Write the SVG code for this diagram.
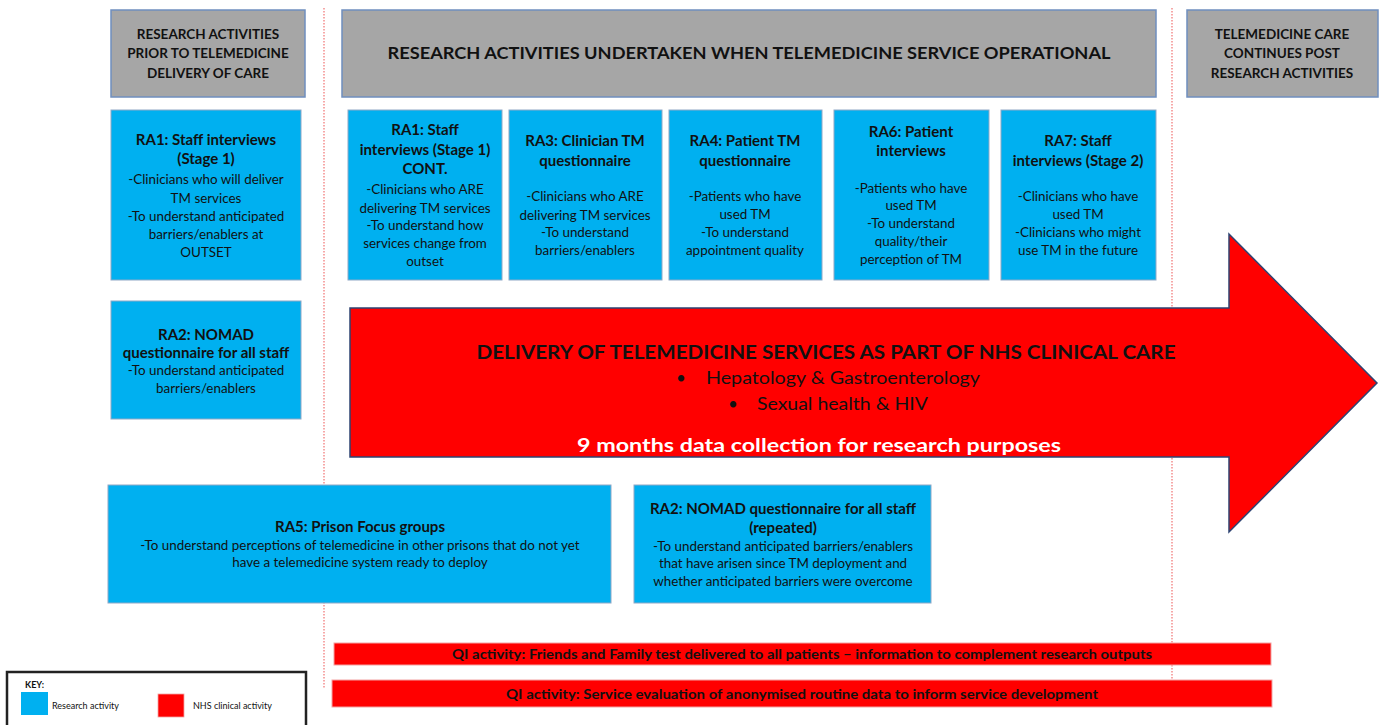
<svg xmlns="http://www.w3.org/2000/svg" width="1385" height="725" viewBox="0 0 1385 725">
<style>
text{font-family:Lato,"Open Sans","DejaVu Sans",sans-serif;fill:#111;text-anchor:middle}
.hd{font-size:13.5px;font-weight:bold}
.hd2{font-size:17px;font-weight:bold}
.t{font-size:15px;font-weight:bold}
.b{font-size:13.4px}
.gray{fill:#A6A6A6;stroke:#6F8EBE;stroke-width:1.5}
.blue{fill:#00B0F0;stroke:#8FA8C6;stroke-width:1}
.red{fill:#FF0000;stroke:#F3A3A3;stroke-width:1}
.div{stroke:#F07070;stroke-width:1.2;stroke-dasharray:1.5 1.5;fill:none}
.am{font-size:19px;font-weight:bold}
.ab{font-size:17px;text-anchor:start}
.aw{font-size:19px;font-weight:bold;fill:#fff}
.qi{font-size:14px;font-weight:bold}
.k{font-size:9px;text-anchor:start}
</style>
<rect width="1385" height="725" fill="#fff"/>
<g id="dividers">
<line class="div" x1="324" y1="8" x2="324" y2="688"/>
<line class="div" x1="1172" y1="8" x2="1172" y2="688"/>
</g>
<g id="header-prior">
<rect class="gray" x="111" y="10" width="194" height="87"/>
<text class="hd" x="208" y="39">RESEARCH ACTIVITIES</text>
<text class="hd" x="208" y="58">PRIOR TO TELEMEDICINE</text>
<text class="hd" x="208" y="78">DELIVERY OF CARE</text>
</g>
<g id="header-operational">
<rect class="gray" x="342" y="10" width="814" height="87"/>
<text class="hd2" x="749" y="59" textLength="723" lengthAdjust="spacingAndGlyphs">RESEARCH ACTIVITIES UNDERTAKEN WHEN TELEMEDICINE SERVICE OPERATIONAL</text>
</g>
<g id="header-post">
<rect class="gray" x="1187" y="10" width="191" height="87"/>
<text class="hd" x="1282" y="39">TELEMEDICINE CARE</text>
<text class="hd" x="1282" y="58">CONTINUES POST</text>
<text class="hd" x="1282" y="78">RESEARCH ACTIVITIES</text>
</g>
<g id="ra1">
<rect class="blue" x="111" y="110" width="190" height="170"/>
<text class="t" x="206" y="145">RA1: Staff interviews</text>
<text class="t" x="206" y="164">(Stage 1)</text>
<text class="b" x="206" y="184">-Clinicians who will deliver</text>
<text class="b" x="206" y="203">TM services</text>
<text class="b" x="206" y="221">-To understand anticipated</text>
<text class="b" x="206" y="239">barriers/enablers  at</text>
<text class="b" x="206" y="257">OUTSET</text>
</g>
<g id="ra1-cont">
<rect class="blue" x="348" y="110" width="154" height="170"/>
<text class="t" x="425" y="135">RA1: Staff</text>
<text class="t" x="425" y="155">interviews (Stage 1)</text>
<text class="t" x="425" y="174">CONT.</text>
<text class="b" x="425" y="194">-Clinicians who ARE</text>
<text class="b" x="425" y="213">delivering TM services</text>
<text class="b" x="425" y="230">-To understand how</text>
<text class="b" x="425" y="248">services change from</text>
<text class="b" x="425" y="266">outset</text>
</g>
<g id="ra3">
<rect class="blue" x="509" y="110" width="153" height="170"/>
<text class="t" x="585" y="146">RA3: Clinician  TM</text>
<text class="t" x="585" y="166">questionnaire</text>
<text class="b" x="585" y="201">-Clinicians who ARE</text>
<text class="b" x="585" y="220">delivering TM services</text>
<text class="b" x="585" y="237">-To understand</text>
<text class="b" x="585" y="255">barriers/enablers</text>
</g>
<g id="ra4">
<rect class="blue" x="669" y="110" width="153" height="170"/>
<text class="t" x="745" y="146">RA4: Patient TM</text>
<text class="t" x="745" y="166">questionnaire</text>
<text class="b" x="745" y="201">-Patients who have</text>
<text class="b" x="745" y="219">used TM</text>
<text class="b" x="745" y="237">-To understand</text>
<text class="b" x="745" y="255">appointment quality</text>
</g>
<g id="ra6">
<rect class="blue" x="834" y="110" width="155" height="170"/>
<text class="t" x="911" y="137">RA6: Patient</text>
<text class="t" x="911" y="156">interviews</text>
<text class="b" x="911" y="193">-Patients who have</text>
<text class="b" x="911" y="210">used TM</text>
<text class="b" x="911" y="228">-To understand</text>
<text class="b" x="911" y="246">quality/their</text>
<text class="b" x="911" y="264">perception of TM</text>
</g>
<g id="ra7">
<rect class="blue" x="1001" y="110" width="155" height="170"/>
<text class="t" x="1078" y="146">RA7: Staff</text>
<text class="t" x="1078" y="166">interviews (Stage 2)</text>
<text class="b" x="1078" y="201">-Clinicians who have</text>
<text class="b" x="1078" y="219">used TM</text>
<text class="b" x="1078" y="237">-Clinicians who might</text>
<text class="b" x="1078" y="255">use TM in the future</text>
</g>
<g id="ra2">
<rect class="blue" x="111" y="301" width="190" height="118"/>
<text class="t" x="206" y="340">RA2: NOMAD</text>
<text class="t" x="206" y="358">questionnaire  for all staff</text>
<text class="b" x="206" y="375">-To understand anticipated</text>
<text class="b" x="206" y="393">barriers/enablers</text>
</g>
<g id="delivery-arrow">
<polygon points="350,308 1229,308 1229,234 1377,383 1229,532 1229,457 350,457" fill="#FF0000" stroke="#2E4372" stroke-width="1.5" stroke-linejoin="miter"/>
<text class="am" x="826" y="359" textLength="699" lengthAdjust="spacingAndGlyphs">DELIVERY OF TELEMEDICINE SERVICES AS PART OF NHS CLINICAL CARE</text>
<text class="ab" x="676" y="384">•</text>
<text class="ab" x="706" y="384" textLength="274" lengthAdjust="spacingAndGlyphs">Hepatology &amp; Gastroenterology</text>
<text class="ab" x="728" y="410">•</text>
<text class="ab" x="757" y="410" textLength="171" lengthAdjust="spacingAndGlyphs">Sexual health &amp; HIV</text>
<text class="aw" x="819" y="452" textLength="484" lengthAdjust="spacingAndGlyphs">9 months data collection for research purposes</text>
</g>
<g id="ra5">
<rect class="blue" x="108" y="485" width="503" height="118"/>
<text class="t" x="360" y="532">RA5: Prison Focus groups</text>
<text class="b" x="360" y="550">-To understand perceptions of telemedicine in other prisons that do not yet</text>
<text class="b" x="360" y="567">have a telemedicine system ready to deploy</text>
</g>
<g id="ra2-repeated">
<rect class="blue" x="634" y="485" width="297" height="118"/>
<text class="t" x="783" y="514">RA2: NOMAD questionnaire  for all staff</text>
<text class="t" x="783" y="533">(repeated)</text>
<text class="b" x="783" y="551">-To understand anticipated barriers/enablers</text>
<text class="b" x="783" y="568">that have arisen since TM deployment  and</text>
<text class="b" x="783" y="586">whether anticipated barriers were overcome</text>
</g>
<g id="qi-friends-family">
<rect class="red" x="334" y="643" width="937" height="22"/>
<text class="qi" x="802" y="659" textLength="700" lengthAdjust="spacingAndGlyphs">QI activity: Friends and Family test delivered to all patients – information  to complement  research outputs</text>
</g>
<g id="qi-service-evaluation">
<rect class="red" x="332" y="680" width="940" height="27"/>
<text class="qi" x="802" y="699" textLength="592" lengthAdjust="spacingAndGlyphs">QI activity: Service evaluation of anonymised  routine data to inform service development</text>
</g>
<g id="key">
<path d="M7,727 V672 H306 V727" fill="none" stroke="#222" stroke-width="2.5"/>
<text class="k" x="25" y="688" font-weight="bold">KEY:</text>
<rect x="21" y="692" width="27" height="23" fill="#00B0F0"/>
<text class="k" x="52" y="709">Research activity</text>
<rect x="158" y="694" width="26" height="23" fill="#FF0000" stroke="#F3A3A3" stroke-width="0.8"/>
<text class="k" x="193" y="709">NHS clinical activity</text>
</g>
</svg>
